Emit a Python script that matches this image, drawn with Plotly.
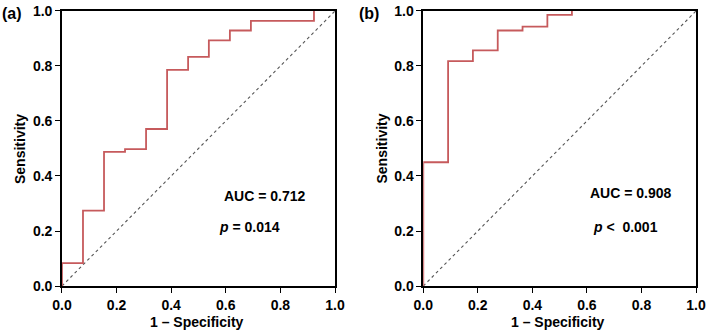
import plotly.graph_objects as go

# Panel (a) ROC points (step curve, horizontal then vertical)
fpr_a = [0.0, 0.0, 0.077, 0.154, 0.231, 0.308, 0.385, 0.462, 0.538, 0.615, 0.692, 0.923]
tpr_a = [0.0, 0.083, 0.274, 0.488, 0.498, 0.571, 0.786, 0.833, 0.893, 0.929, 0.964, 1.0]
auc_a = "AUC = 0.712"
p_a = "<i>p</i> = 0.014"

# Panel (b) ROC points
fpr_b = [0.0, 0.0, 0.091, 0.182, 0.273, 0.364, 0.455, 0.545]
tpr_b = [0.0, 0.45, 0.818, 0.857, 0.929, 0.943, 0.986, 1.0]
auc_b = "AUC = 0.908"
p_b = "<i>p</i> <  0.001"

ref_line = [0.0, 1.0]
ticks = [0.0, 0.2, 0.4, 0.6, 0.8, 1.0]
tick_text = ["0.0", "0.2", "0.4", "0.6", "0.8", "1.0"]
x_title = "1 – Specificity"
y_title = "Sensitivity"

RED = "#c65a5c"
FONT = "Liberation Sans, Arial, sans-serif"
W, H = 709, 333

fig = go.Figure()

for i, (fx, ty) in enumerate([(fpr_a, tpr_a), (fpr_b, tpr_b)]):
    xa = "x" if i == 0 else "x2"
    ya = "y" if i == 0 else "y2"
    fig.add_trace(go.Scatter(x=ref_line, y=ref_line, mode="lines",
                             line=dict(color="#555555", width=1.1, dash="3px,3px"),
                             xaxis=xa, yaxis=ya, showlegend=False, hoverinfo="skip"))
    fig.add_trace(go.Scatter(x=fx, y=ty, mode="lines", line_shape="hv",
                             line=dict(color=RED, width=1.8),
                             xaxis=xa, yaxis=ya, showlegend=False))

axis_common = dict(range=[0, 1], tickvals=ticks, ticktext=["<b>%s</b>" % t for t in tick_text],
                   showline=True, mirror=True, linecolor="black", linewidth=1.6,
                   ticks="outside", ticklen=5, tickwidth=1.3, tickcolor="black",
                   showgrid=False, zeroline=False, layer="below traces", automargin=False,
                   tickfont=dict(family=FONT, size=14, color="black"))

fig.update_layout(
    width=W, height=H,
    margin=dict(l=0, r=0, t=0, b=0),
    paper_bgcolor="white", plot_bgcolor="white",
    font=dict(family=FONT, color="black"),
    xaxis=dict(domain=[0.0874, 0.4725], anchor="y", **axis_common),
    yaxis=dict(domain=[0.1411, 0.967], anchor="x", **axis_common),
    xaxis2=dict(domain=[0.597, 0.9817], anchor="y2", **axis_common),
    yaxis2=dict(domain=[0.1411, 0.967], anchor="x2", **axis_common),
)

annots = [
    dict(x=0.586, y=0.327, xref="x", yref="y", text="<b>" + auc_a + "</b>"),
    dict(x=0.568, y=0.215, xref="x", yref="y", text="<b>" + p_a + "</b>"),
    dict(x=0.604, y=0.34, xref="x2", yref="y2", text="<b>" + auc_b + "</b>"),
    dict(x=0.614, y=0.216, xref="x2", yref="y2", text="<b>" + p_b + "</b>"),
]
for a in annots:
    fig.add_annotation(showarrow=False, xanchor="left", yanchor="middle",
                       font=dict(family=FONT, size=14, color="black"), **a)

# axis titles (as text annotations for exact placement)
for cx in [197, 557.5]:
    fig.add_annotation(x=cx / W, y=1 - 322 / H, xref="paper", yref="paper",
                       text="<b>%s</b>" % x_title, showarrow=False,
                       xanchor="center", yanchor="middle",
                       font=dict(family=FONT, size=14, color="black"))
for cx in [20, 381.5]:
    fig.add_annotation(x=cx / W, y=1 - 149 / H, xref="paper", yref="paper",
                       text="<b>%s</b>" % y_title, showarrow=False, textangle=-90,
                       xanchor="center", yanchor="middle",
                       font=dict(family=FONT, size=14, color="black"))

fig.add_annotation(x=0, y=1 - 13 / H, xref="paper", yref="paper", text="<b>(a)</b>",
                   showarrow=False, xanchor="left", yanchor="middle",
                   font=dict(family=FONT, size=16, color="black"))
fig.add_annotation(x=357 / W, y=1 - 13 / H, xref="paper", yref="paper", text="<b>(b)</b>",
                   showarrow=False, xanchor="left", yanchor="middle",
                   font=dict(family=FONT, size=16, color="black"))

fig.write_html("out.html", config={"displayModeBar": False},
               post_script="document.body.style.margin='0';document.body.style.overflow='hidden';")
